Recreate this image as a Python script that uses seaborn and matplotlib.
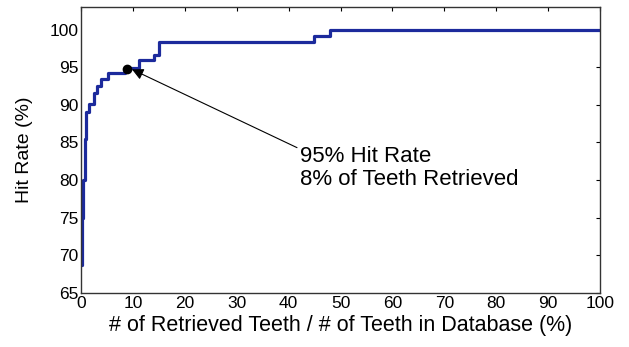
import seaborn as sns
import matplotlib.pyplot as plt
import pandas as pd

# Step points (x = % retrieved, y = hit rate %)
retrieved_pct = [0, 0.2, 0.4, 0.7, 1.0, 1.6, 2.4, 3.0, 3.8, 5.2, 8.4, 11.2, 14.0, 15.0, 44.8, 48.0, 100]
hit_rate = [68.7, 75.0, 80.0, 85.5, 89.0, 90.1, 91.6, 92.5, 93.4, 94.2, 94.9, 95.9, 96.6, 98.3, 99.1, 100.0, 100.0]

# Annotated point
point_x = [8.9]
point_y = [94.8]

df = pd.DataFrame({'retrieved': retrieved_pct, 'hit': hit_rate})

sns.set_style("white")
plt.rcParams['font.family'] = ['Liberation Sans', 'DejaVu Sans']
plt.rcParams['text.color'] = 'black'
plt.rcParams['axes.labelcolor'] = 'black'
plt.rcParams['xtick.color'] = 'black'
plt.rcParams['ytick.color'] = 'black'

fig = plt.figure(figsize=(6.29, 3.47), dpi=100)
ax = fig.add_axes([0.129, 0.156, 0.825, 0.824])

sns.lineplot(data=df, x='retrieved', y='hit', drawstyle='steps-post',
             color='#1c2a9c', linewidth=2.3, ax=ax)
ax.plot(point_x, point_y, 'o', color='black', markersize=6)

# arrow drawn on its own, text placed next to its tail
ax.annotate('', xy=(9.8, 94.7), xytext=(41.6, 84.3),
            arrowprops=dict(arrowstyle='-|>', color='black', lw=0.8,
                            mutation_scale=17, shrinkA=0, shrinkB=0))
ax.text(42.2, 81.6, '95% Hit Rate\n8% of Teeth Retrieved',
        fontsize=16, ha='left', va='center', linespacing=1.15)

ax.set_xlim(0, 100)
ax.set_ylim(65, 103)
ax.set_xticks(range(0, 101, 10))
ax.set_yticks(range(65, 101, 5))
ax.tick_params(direction='in', length=3, top=True, right=True,
               labelsize=12.5, pad=2)
for s in ax.spines.values():
    s.set_color('#333333')
    s.set_linewidth(1.0)

ax.set_xlabel('# of Retrieved Teeth / # of Teeth in Database (%)', fontsize=15.5, labelpad=3)
ax.set_ylabel('Hit Rate (%)', fontsize=14, labelpad=12)

plt.savefig('out.png', dpi=100)
